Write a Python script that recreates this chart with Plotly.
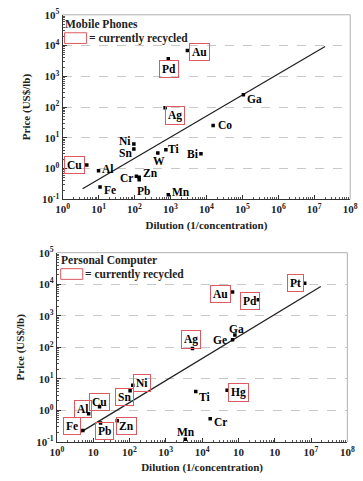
import numpy as np
import plotly.graph_objects as go

# ---------------- data ----------------
# Mobile phones panel
mp_elem = ["Au", "Pd", "Ga", "Ag", "Co", "Ni", "Sn", "Ti", "W", "Bi", "Cu", "Al", "Cr", "Zn", "Pb", "Fe", "Mn"]
mp_dilution = [2960, 870, 107000, 710, 15400, 96, 96, 745, 445, 7050, 4.7, 10, 113, 135, 135, 11, 870]
mp_price = [6900, 3750, 250, 95, 25, 6.3, 4.3, 4.1, 3.2, 3.0, 1.3, 0.85, 0.56, 0.52, 0.43, 0.25, 0.14]
mp_recycled = ["Au", "Pd", "Ag", "Cu"]
mp_fit_x = [3.6, 2.0e7]
mp_fit_y = [0.22, 9300]

# Personal computer panel
pc_elem = ["Pt", "Au", "Pd", "Ga", "Ge", "Ag", "Ni", "Sn", "Ti", "Hg", "Cu", "Al", "Fe", "Pb", "Zn", "Cr", "Mn"]
pc_dilution = [6.7e6, 69000, 354000, 80000, 69000, 5450, 123, 104, 6700, 49000, 15, 7.5, 5.2, 16, 46, 16700, 3450]
pc_price = [10700, 5700, 3200, 247, 174, 91, 6.3, 4.2, 3.96, 4.4, 1.3, 0.79, 0.23, 0.40, 0.47, 0.55, 0.123]
pc_recycled = ["Pt", "Au", "Pd", "Ag", "Ni", "Sn", "Hg", "Cu", "Al", "Fe", "Pb", "Zn"]
pc_fit_x = [4.7, 1.86e7]
pc_fit_y = [0.21, 8500]

x_tickvals = [10 ** k for k in range(0, 9)]
x_ticktext_top = ["10<sup>%d</sup>" % k for k in range(0, 9)]
x_ticktext_bot = ["10<sup>0</sup>", "10", "10<sup>2</sup>", "10<sup>3</sup>", "10<sup>4</sup>",
                  "10", "10", "10<sup>7</sup>", "10<sup>8</sup>"]
y_tickvals = [10.0 ** k for k in range(-1, 6)]
y_ticktext = ["10<sup>%d</sup>" % k for k in range(-1, 6)]

# ---------------- label offsets (pixels, dx right, dy down) ----------------
mp_off = {"Au": (12, 2), "Pd": (1, 10), "Ga": (11, 4), "Ag": (10, 8), "Co": (12, -1), "Ni": (-9, -3),
          "Sn": (-8, 4), "Ti": (8, -1), "W": (1, 8), "Bi": (-8, 0), "Cu": (-12, 0), "Al": (9, -2),
          "Cr": (-10, 2), "Zn": (11, -4), "Pb": (4, 11), "Fe": (10, 3), "Mn": (13, -3)}
pc_off = {"Pt": (-9, 0), "Au": (-12, 2), "Pd": (-8, 1), "Ga": (2, -6), "Ge": (-13, 0), "Ag": (-2, -9),
          "Ni": (9, -2), "Sn": (-6, 6), "Ti": (9, 5), "Hg": (11, 2), "Cu": (0, -5), "Al": (-6, -5),
          "Fe": (-11, -5), "Pb": (4, 8), "Zn": (9, 5), "Cr": (10, 3), "Mn": (1, -7)}

W, H = 363, 481
SERIF = "Liberation Serif"
RED = "#dc5a60"

fig = go.Figure()

panels = [
    dict(x=mp_dilution, y=mp_price, elem=mp_elem, rec=mp_recycled, fx=mp_fit_x, fy=mp_fit_y,
         off=mp_off, xa="x", ya="y", xt=x_ticktext_top,
         xdom=[58 / W, 358 / W], ydom=[1 - 197 / H, 1 - 7 / H]),
    dict(x=pc_dilution, y=pc_price, elem=pc_elem, rec=pc_recycled, fx=pc_fit_x, fy=pc_fit_y,
         off=pc_off, xa="x2", ya="y2", xt=x_ticktext_bot,
         xdom=[52 / W, 355 / W], ydom=[1 - 447 / H, 1 - 252 / H]),
]

annotations = []
shapes = []
minor_x = [m * 10 ** k for k in range(0, 8) for m in range(2, 10)]
minor_y = [m * 10.0 ** k for k in range(-1, 5) for m in range(2, 10)]

for i, p in enumerate(panels):
    fig.add_trace(go.Scatter(x=p["fx"], y=p["fy"], mode="lines", line=dict(color="#222222", width=1.3),
                             xaxis=p["xa"], yaxis=p["ya"], showlegend=False, hoverinfo="skip"))
    fig.add_trace(go.Scatter(x=p["x"], y=p["y"], mode="markers",
                             marker=dict(symbol="square", size=3.5, color="black"),
                             xaxis=p["xa"], yaxis=p["ya"], showlegend=False))
    for e, xv, yv in zip(p["elem"], p["x"], p["y"]):
        dx, dy = p["off"][e]
        rec = e in p["rec"]
        annotations.append(dict(
            x=np.log10(xv), y=np.log10(yv), xref=p["xa"], yref=p["ya"], text=e, showarrow=False,
            xshift=dx, yshift=-dy, font=dict(family=SERIF, size=11.5, color="black", weight="bold"),
            bordercolor=RED if rec else "rgba(0,0,0,0)", borderwidth=1 if rec else 0, borderpad=2))
    axn = "" if i == 0 else "2"
    fig.update_layout(**{
        "xaxis" + axn: dict(type="log", range=[0, 8], domain=p["xdom"], anchor=p["ya"],
                            tickmode="array", tickvals=x_tickvals, ticktext=p["xt"],
                            ticks="inside", ticklen=4, tickcolor="#333", showgrid=False, zeroline=False,
                            showline=True, linecolor="#333", linewidth=1,
                            minor=dict(tickmode="array", tickvals=minor_x, ticks="inside", ticklen=2,
                                       tickcolor="#555", showgrid=False),
                            tickfont=dict(family=SERIF, size=11, color="#222", weight="bold"),
                            title=dict(text="Dilution (1/concentration)", standoff=6,
                                       font=dict(family=SERIF, size=11, color="#222", weight="bold"))),
        "yaxis" + axn: dict(type="log", range=[-1, 5], domain=p["ydom"], anchor=p["xa"],
                            tickmode="array", tickvals=y_tickvals, ticktext=y_ticktext,
                            ticks="inside", ticklen=4, tickcolor="#333",
                            showgrid=True, gridcolor="#c8c8c8", griddash="dash", gridwidth=1,
                            zeroline=False, showline=True, linecolor="#333", linewidth=1,
                            minor=dict(tickmode="array", tickvals=minor_y, ticks="inside", ticklen=2,
                                       tickcolor="#555", showgrid=False),
                            tickfont=dict(family=SERIF, size=11, color="#222", weight="bold"),
                            title=dict(text="Price (US$/lb)", standoff=9,
                                       font=dict(family=SERIF, size=11, color="#222", weight="bold"))),
    })
    # light frame on top and right
    xd = "x domain" if i == 0 else "x2 domain"
    yd = "y domain" if i == 0 else "y2 domain"
    shapes.append(dict(type="line", xref=xd, yref=yd, x0=0, x1=1, y0=1, y1=1,
                       line=dict(color="#b0b0b0", width=1)))
    shapes.append(dict(type="line", xref=xd, yref=yd, x0=1, x1=1, y0=0, y1=1,
                       line=dict(color="#b0b0b0", width=1)))

# panel titles and legend keys
def P(px, py):
    return px / W, 1 - py / H

for title, ty, by, x0 in [("Mobile Phones", 16, 31, 58), ("Personal Computer", 260, 274, 54)]:
    tx, typ = P(x0, ty)
    annotations.append(dict(x=tx, y=typ, xref="paper", yref="paper", text=title, showarrow=False,
                            xanchor="left", yanchor="middle",
                            font=dict(family=SERIF, size=11.5, color="#222", weight="bold")))
    bx0, by0 = P(x0 + 2, by - 5.5)
    bx1, by1 = P(x0 + 25, by + 5.5)
    shapes.append(dict(type="rect", xref="paper", yref="paper", x0=bx0, x1=bx1, y0=by1, y1=by0,
                       line=dict(color=RED, width=1)))
    lx, ly = P(x0 + 25, by)
    annotations.append(dict(x=lx, y=ly, xref="paper", yref="paper", text="= currently recycled",
                            showarrow=False, xanchor="left", yanchor="middle",
                            font=dict(family=SERIF, size=11.5, color="#222", weight="bold")))

fig.update_layout(width=W, height=H, margin=dict(l=0, r=0, t=0, b=0),
                  paper_bgcolor="white", plot_bgcolor="white",
                  annotations=annotations, shapes=shapes, showlegend=False)

fig.write_html("out.html")
